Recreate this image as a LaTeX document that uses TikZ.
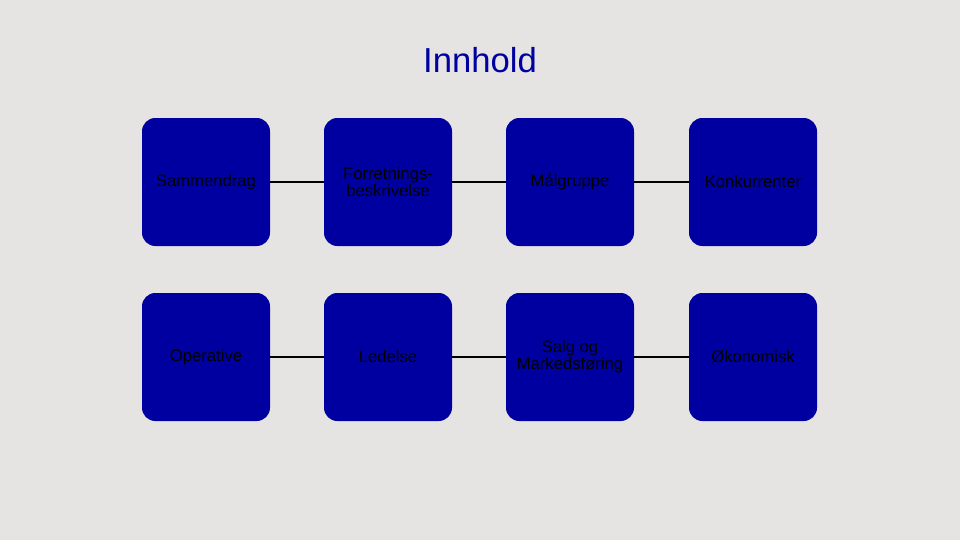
\documentclass[tikz,border=0pt]{standalone}
\usepackage{fontspec}
\setmainfont{Liberation Sans}
\definecolor{boxblue}{RGB}{0,0,160}
\definecolor{bggrey}{RGB}{230,228,226}
\tikzset{
  topic/.style={rectangle, rounded corners=10pt, fill=boxblue, minimum width=96pt,
    minimum height=96pt, align=center, font=\fontsize{12.5}{12.5}\selectfont, text=black},
  link/.style={draw=black, line width=0.8pt}
}
\begin{document}
\begin{tikzpicture}[x=0.75pt, y=-0.75pt]
  \fill[bggrey] (0,0) rectangle (960,540);
  \useasboundingbox (0,0) rectangle (960,540);

  % Tittel
  \node[font=\fontsize{26}{26}\selectfont, text=boxblue] (title) at (480,60) {Innhold};

  % Rad 1
  \node[topic] (sum) at (206,182) {Sammendrag};
  \node[topic] (forr) at (388,182) {Forretnings-\\beskrivelse};
  \node[topic] (maal) at (570,182) {Målgruppe};
  \node[topic] (konk) at (753,182) {Konkurrenter};

  % Rad 2
  \node[topic] (oper) at (206,357) {Operative};
  \node[topic] (led) at (388,357) {Ledelse};
  \node[topic] (salg) at (570,357) {Salg og\\Markedsføring};
  \node[topic] (okon) at (753,357) {Økonomisk};

  % Koblinger
  \draw[link] (sum) -- (forr);
  \draw[link] (forr) -- (maal);
  \draw[link] (maal) -- (konk);
  \draw[link] (oper) -- (led);
  \draw[link] (led) -- (salg);
  \draw[link] (salg) -- (okon);
\end{tikzpicture}
\end{document}
